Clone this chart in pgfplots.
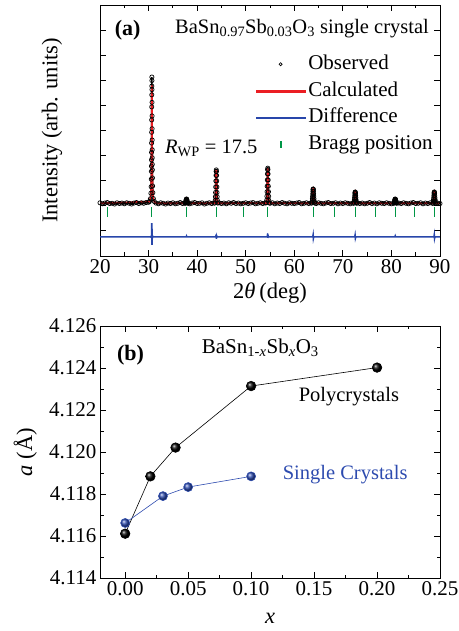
\documentclass[border=0pt]{standalone}
\usepackage{pgfplots}
\pgfplotsset{compat=1.18}
\usepackage{pgfplotstable}
\usepackage{fontspec}
\setmainfont{Liberation Serif}

\definecolor{calcred}{RGB}{235,30,35}
\definecolor{diffblue}{RGB}{40,70,170}
\definecolor{braggreen}{RGB}{0,150,70}
\definecolor{scblue}{RGB}{45,75,175}

% Observed XRD profile, BaSn0.97Sb0.03O3
\pgfplotstableread[row sep=\\]{
x y\\
20.0 2.12\\ 20.5 2.08\\ 21.0 2.11\\ 21.5 2.13\\ 22.0 2.09\\ 22.5 2.10\\ 23.0 2.07\\
23.5 2.12\\ 24.0 2.09\\ 24.5 2.11\\ 25.0 2.08\\ 25.5 2.12\\ 26.0 2.10\\ 26.5 2.07\\
27.0 2.11\\ 27.5 2.13\\ 28.0 2.09\\ 28.5 2.12\\ 29.0 2.10\\ 29.5 2.13\\ 30.0 2.14\\
30.18 2.17\\ 30.38 2.28\\ 30.48 2.50\\ 30.53 2.76\\ 30.56 3.06\\ 30.58 3.37\\ 30.59 3.58\\
30.60 3.83\\ 30.61 4.13\\ 30.62 4.50\\ 30.63 4.93\\ 30.64 5.42\\ 30.65 5.94\\ 30.66 6.42\\
30.67 6.77\\ 30.68 7.13\\ 30.69 6.99\\ 30.70 6.63\\ 30.71 6.12\\ 30.72 5.58\\ 30.73 5.07\\
30.74 4.62\\ 30.75 4.23\\ 30.76 3.91\\ 30.77 3.65\\ 30.78 3.43\\ 30.80 3.11\\ 30.83 2.79\\
30.88 2.52\\ 30.98 2.29\\ 31.18 2.17\\
31.5 2.11\\ 32.0 2.08\\ 32.5 2.12\\ 33.0 2.10\\ 33.5 2.07\\ 34.0 2.11\\ 34.5 2.09\\
35.0 2.12\\ 35.5 2.08\\ 36.0 2.10\\ 36.5 2.13\\ 37.0 2.09\\ 37.5 2.11\\
37.51 2.10\\ 37.59 2.12\\ 37.63 2.13\\ 37.66 2.16\\ 37.69 2.18\\ 37.72 2.21\\ 37.75 2.24\\
37.78 2.26\\ 37.81 2.27\\ 37.84 2.26\\ 37.87 2.24\\ 37.90 2.21\\ 37.93 2.18\\ 37.96 2.16\\
37.99 2.13\\ 38.03 2.12\\ 38.11 2.10\\
38.5 2.08\\ 39.0 2.11\\ 39.5 2.13\\ 40.0 2.09\\ 40.5 2.10\\ 41.0 2.12\\ 41.5 2.07\\
42.0 2.10\\ 42.5 2.12\\ 43.0 2.09\\ 43.5 2.11\\
43.64 2.11\\ 43.72 2.22\\ 43.76 2.36\\ 43.79 2.53\\ 43.82 2.75\\ 43.85 2.99\\ 43.88 3.21\\
43.91 3.37\\ 43.94 3.43\\ 43.97 3.37\\ 44.00 3.21\\ 44.03 2.99\\ 44.06 2.75\\ 44.09 2.53\\
44.12 2.36\\ 44.16 2.22\\ 44.24 2.11\\
44.5 2.12\\ 45.0 2.09\\ 45.5 2.11\\ 46.0 2.08\\ 46.5 2.12\\ 47.0 2.10\\ 47.5 2.13\\
48.0 2.09\\ 48.5 2.11\\ 49.0 2.08\\ 49.5 2.10\\ 50.0 2.12\\ 50.5 2.09\\ 51.0 2.11\\
51.5 2.13\\ 52.0 2.08\\ 52.5 2.10\\ 53.0 2.12\\ 53.5 2.09\\ 54.0 2.11\\
54.24 2.12\\ 54.32 2.22\\ 54.36 2.38\\ 54.39 2.56\\ 54.42 2.78\\ 54.45 3.03\\ 54.48 3.27\\
54.51 3.44\\ 54.54 3.50\\ 54.57 3.44\\ 54.60 3.27\\ 54.63 3.03\\ 54.66 2.78\\ 54.69 2.56\\
54.72 2.38\\ 54.76 2.22\\ 54.84 2.12\\
55.0 2.10\\ 55.5 2.12\\ 56.0 2.08\\ 56.5 2.11\\ 57.0 2.09\\ 57.5 2.13\\ 58.0 2.10\\
58.5 2.08\\ 59.0 2.12\\ 59.5 2.10\\ 60.0 2.09\\ 60.5 2.11\\ 61.0 2.13\\ 61.5 2.08\\
62.0 2.10\\ 62.5 2.12\\ 63.0 2.09\\ 63.5 2.11\\
63.59 2.11\\ 63.67 2.15\\ 63.71 2.21\\ 63.74 2.29\\ 63.77 2.38\\ 63.80 2.48\\ 63.83 2.58\\
63.86 2.65\\ 63.89 2.67\\ 63.92 2.65\\ 63.95 2.58\\ 63.98 2.48\\ 64.01 2.38\\ 64.04 2.29\\
64.07 2.21\\ 64.11 2.15\\ 64.19 2.11\\
64.5 2.09\\ 65.0 2.12\\ 65.5 2.10\\ 66.0 2.08\\ 66.5 2.11\\ 67.0 2.13\\ 67.5 2.09\\
68.0 2.10\\ 68.5 2.12\\ 69.0 2.08\\ 69.5 2.11\\ 70.0 2.09\\ 70.5 2.12\\ 71.0 2.10\\
71.5 2.08\\ 72.0 2.11\\
72.24 2.10\\ 72.32 2.14\\ 72.36 2.19\\ 72.39 2.25\\ 72.42 2.32\\ 72.45 2.40\\ 72.48 2.48\\
72.51 2.53\\ 72.54 2.55\\ 72.57 2.53\\ 72.60 2.48\\ 72.63 2.40\\ 72.66 2.32\\ 72.69 2.25\\
72.72 2.19\\ 72.76 2.14\\ 72.84 2.10\\
73.0 2.12\\ 73.5 2.09\\ 74.0 2.11\\ 74.5 2.08\\ 75.0 2.10\\ 75.5 2.13\\ 76.0 2.09\\
76.5 2.11\\ 77.0 2.08\\ 77.5 2.12\\ 78.0 2.10\\ 78.5 2.09\\ 79.0 2.12\\ 79.5 2.10\\
80.0 2.08\\
80.48 2.10\\ 80.56 2.12\\ 80.60 2.13\\ 80.63 2.16\\ 80.66 2.18\\ 80.69 2.21\\ 80.72 2.24\\
80.75 2.26\\ 80.78 2.27\\ 80.81 2.26\\ 80.84 2.24\\ 80.87 2.21\\ 80.90 2.18\\ 80.93 2.16\\
80.96 2.13\\ 81.00 2.12\\ 81.08 2.10\\
81.5 2.11\\ 82.0 2.09\\ 82.5 2.12\\ 83.0 2.10\\ 83.5 2.08\\ 84.0 2.11\\ 84.5 2.13\\
85.0 2.09\\ 85.5 2.10\\ 86.0 2.12\\ 86.5 2.08\\ 87.0 2.11\\ 87.5 2.09\\ 88.0 2.12\\
88.5 2.10\\
88.53 2.10\\ 88.61 2.14\\ 88.65 2.19\\ 88.68 2.25\\ 88.71 2.32\\ 88.74 2.40\\ 88.77 2.48\\
88.80 2.53\\ 88.83 2.55\\ 88.86 2.53\\ 88.89 2.48\\ 88.92 2.40\\ 88.95 2.32\\ 88.98 2.25\\
89.01 2.19\\ 89.05 2.14\\ 89.13 2.10\\
89.5 2.11\\ 90.0 2.09\\
}\obsdata

% Calculated (Rietveld) profile
\pgfplotstableread[row sep=\\]{
x y\\
20.0 2.10\\ 30.18 2.17\\ 30.38 2.28\\ 30.48 2.49\\ 30.53 2.75\\ 30.56 3.04\\ 30.58 3.35\\
30.60 3.79\\ 30.62 4.45\\ 30.64 5.35\\ 30.66 6.33\\ 30.68 6.80\\ 30.70 6.33\\ 30.72 5.35\\
30.74 4.45\\ 30.76 3.79\\ 30.78 3.35\\ 30.80 3.04\\ 30.83 2.75\\ 30.88 2.49\\ 30.98 2.28\\
31.18 2.17\\ 31.60 2.10\\
37.51 2.10\\ 37.63 2.13\\ 37.69 2.18\\ 37.75 2.24\\ 37.81 2.27\\ 37.87 2.24\\ 37.93 2.18\\
37.99 2.13\\ 38.11 2.10\\
43.64 2.10\\ 43.72 2.21\\ 43.76 2.35\\ 43.79 2.52\\ 43.82 2.74\\ 43.85 2.98\\ 43.88 3.20\\
43.91 3.36\\ 43.94 3.42\\ 43.97 3.36\\ 44.00 3.20\\ 44.03 2.98\\ 44.06 2.74\\ 44.09 2.52\\
44.12 2.35\\ 44.16 2.21\\ 44.24 2.10\\
54.24 2.11\\ 54.32 2.22\\ 54.36 2.37\\ 54.39 2.55\\ 54.42 2.78\\ 54.45 3.02\\ 54.48 3.26\\
54.51 3.43\\ 54.54 3.49\\ 54.57 3.43\\ 54.60 3.26\\ 54.63 3.02\\ 54.66 2.78\\ 54.69 2.55\\
54.72 2.37\\ 54.76 2.22\\ 54.84 2.11\\
63.59 2.10\\ 63.67 2.15\\ 63.71 2.21\\ 63.74 2.29\\ 63.77 2.38\\ 63.80 2.48\\ 63.83 2.58\\
63.86 2.64\\ 63.89 2.66\\ 63.92 2.64\\ 63.95 2.58\\ 63.98 2.48\\ 64.01 2.38\\ 64.04 2.29\\
64.07 2.21\\ 64.11 2.15\\ 64.19 2.10\\
72.24 2.10\\ 72.32 2.14\\ 72.36 2.19\\ 72.39 2.25\\ 72.42 2.32\\ 72.45 2.40\\ 72.48 2.47\\
72.51 2.52\\ 72.54 2.54\\ 72.57 2.52\\ 72.60 2.47\\ 72.63 2.40\\ 72.66 2.32\\ 72.69 2.25\\
72.72 2.19\\ 72.76 2.14\\ 72.84 2.10\\
80.48 2.10\\ 80.60 2.13\\ 80.66 2.18\\ 80.72 2.23\\ 80.78 2.26\\ 80.84 2.23\\ 80.90 2.18\\
80.96 2.13\\ 81.08 2.10\\
88.53 2.10\\ 88.61 2.14\\ 88.65 2.19\\ 88.68 2.25\\ 88.71 2.32\\ 88.74 2.40\\ 88.77 2.47\\
88.80 2.52\\ 88.83 2.54\\ 88.86 2.52\\ 88.89 2.47\\ 88.92 2.40\\ 88.95 2.32\\ 88.98 2.25\\
89.01 2.19\\ 89.05 2.14\\ 89.13 2.10\\
90.0 2.10\\
}\calcdata

% Difference curve (observed - calculated), shifted down
\pgfplotstableread[row sep=\\]{
x y\\
20.0 0.76\\ 30.40 0.76\\ 30.60 0.74\\ 30.63 0.95\\ 30.66 1.31\\ 30.68 0.60\\ 30.70 0.44\\
30.72 1.08\\ 30.75 0.70\\ 30.80 0.80\\ 30.95 0.76\\
37.75 0.76\\ 37.81 0.79\\ 37.87 0.76\\
43.85 0.76\\ 43.92 0.86\\ 43.96 0.68\\ 44.02 0.80\\ 44.10 0.76\\
54.45 0.76\\ 54.52 0.90\\ 54.56 0.72\\ 54.62 0.80\\ 54.70 0.76\\
63.80 0.76\\ 63.88 0.84\\ 63.93 0.70\\ 64.00 0.76\\
72.45 0.76\\ 72.52 0.83\\ 72.58 0.71\\ 72.65 0.76\\
80.70 0.76\\ 80.78 0.80\\ 80.85 0.76\\
88.75 0.76\\ 88.82 0.84\\ 88.88 0.70\\ 88.95 0.76\\
90.0 0.76\\
}\diffdata

% Bragg reflections of the cubic perovskite
\pgfplotstableread[row sep=\\]{
x y\\
21.56 1.75\\ 30.68 1.75\\ 37.81 1.75\\ 43.94 1.75\\ 49.46 1.75\\ 54.54 1.75\\ 63.89 1.75\\
68.27 1.75\\ 72.54 1.75\\ 76.69 1.75\\ 80.78 1.75\\ 84.82 1.75\\ 88.83 1.75\\
}\braggdata

% Lattice parameter a versus Sb content x
\pgfplotstableread[row sep=\\]{
x a\\
0.00 4.11611\\ 0.02 4.11884\\ 0.04 4.12021\\ 0.10 4.12314\\ 0.20 4.12402\\
}\polydata
\pgfplotstableread[row sep=\\]{
x a\\
0.00 4.11662\\ 0.03 4.11790\\ 0.05 4.11833\\ 0.10 4.11884\\
}\singledata

\pgfplotsset{
  panel/.style={
    scale only axis, width=340pt,
    tick align=inside,
    major tick length=6pt, minor tick length=3.5pt,
    axis line style={line width=0.8pt},
    tick style={black, line width=0.8pt},
    /pgf/number format/assume math mode=true,
    ticklabel style={font=\fontsize{21}{25}\selectfont},
    label style={font=\fontsize{22.5}{27}\selectfont},
  },
}

\begin{document}
\begin{tikzpicture}[font=\fontsize{21}{25}\selectfont]
\path[use as bounding box] (0,0) rectangle (458pt,631pt);

% (a) refinement of the powder pattern
\begin{axis}[panel,
  at={(100pt,375pt)}, anchor=south west, height=251pt,
  xmin=20, xmax=90, ymin=0, ymax=10,
  xtick={20,30,...,90}, minor x tick num=1,
  ytick={0,1,...,10}, yticklabels={},
  xlabel={2\textit{θ}\,(deg)},
  ylabel={Intensity (arb. units)},
  xlabel style={at={(axis description cs:0.5,-0.147)}, anchor=center},
  ylabel style={at={(axis description cs:-0.141,0.5)}, anchor=center},
  legend cell align=left,
  legend style={draw=none, fill=none, at={(0.458,0.81)}, anchor=north west,
    row sep=4pt, inner sep=0pt, font=\fontsize{21}{25}\selectfont,
    nodes={inner xsep=3pt, inner ysep=1pt, text height=15.5pt, text depth=5.2pt}},
]
\addplot[black, line width=1.6pt, forget plot] table[x=x, y=y] {\obsdata};
\addplot[only marks, black, mark=o, mark size=2.1pt,
  mark options={line width=0.7pt}, forget plot] table[x=x, y=y] {\obsdata};
\addplot[calcred, line width=1.6pt, forget plot] table[x=x, y=y] {\calcdata};
\addplot[diffblue, line width=1.6pt, forget plot] table[x=x, y=y] {\diffdata};
\addplot[only marks, braggreen, mark=|, mark size=5pt,
  mark options={line width=0.9pt}, forget plot] table[x=x, y=y] {\braggdata};

% legend keys drawn as filled shapes
\addlegendimage{legend image code/.code={%
  \draw[black, line width=0.7pt] (24.5pt,0pt) circle (1.6pt);}}
\addlegendentry{Observed}
\addlegendimage{legend image code/.code={%
  \fill[calcred] (0pt,-0.8pt) rectangle (49pt,0.8pt);}}
\addlegendentry{Calculated}
\addlegendimage{legend image code/.code={%
  \fill[diffblue] (0pt,-0.8pt) rectangle (49pt,0.8pt);}}
\addlegendentry{Difference}
\addlegendimage{legend image code/.code={%
  \fill[braggreen] (23.9pt,-3.3pt) rectangle (25.1pt,3.3pt);}}
\addlegendentry{Bragg position}

\node[anchor=base west, inner sep=0pt, font=\bfseries\fontsize{22}{26}\selectfont]
  at (axis cs:23.0,8.78) {(a)};
\node[anchor=base west, inner sep=0pt, font=\fontsize{20.5}{24}\selectfont]
  at (axis cs:35.44,8.87) {BaSn\textsubscript{0.97}Sb\textsubscript{0.03}O\textsubscript{3} single crystal};
\node[anchor=base west, inner sep=0pt, font=\fontsize{20.5}{24}\selectfont]
  at (axis cs:33.38,4.09) {\textit{R}\textsubscript{WP} = 17.5};
\end{axis}

% (b) lattice parameter
\begin{axis}[panel,
  at={(100pt,53pt)}, anchor=south west, height=252pt,
  xmin=-0.02, xmax=0.25, ymin=4.114, ymax=4.126,
  xtick={0,0.05,0.10,0.15,0.20,0.25}, minor x tick num=1,
  ytick={4.114,4.116,4.118,4.120,4.122,4.124,4.126}, minor y tick num=1,
  scaled ticks=false,
  xticklabel style={/pgf/number format/.cd, fixed, fixed zerofill, precision=2},
  yticklabel style={/pgf/number format/.cd, fixed, fixed zerofill, precision=3},
  xlabel={\textit{x}},
  ylabel={\textit{a} (Å)},
  xlabel style={at={(axis description cs:0.5,-0.159)}, anchor=center},
  ylabel style={at={(axis description cs:-0.22,0.5)}, anchor=center},
]
\addplot[black, line width=0.6pt, mark=ball, mark size=4.8pt,
  mark options={ball color=black}] table[x=x, y=a] {\polydata};
\addplot[scblue, line width=0.6pt, mark=ball, mark size=4.5pt,
  mark options={ball color=scblue}] table[x=x, y=a] {\singledata};

\node[anchor=center, inner sep=0pt, font=\bfseries\fontsize{22}{26}\selectfont]
  at (axis cs:0.0042,4.12463) {(b)};
\node[anchor=base west, inner sep=0pt]
  at (axis cs:0.0607,4.12469) {BaSn\textsubscript{1-\textit{x}}Sb\textsubscript{\textit{x}}O\textsubscript{3}};
\node[anchor=base west, inner sep=0pt, font=\fontsize{20.5}{24}\selectfont]
  at (axis cs:0.1377,4.12241) {Polycrystals};
\node[anchor=base west, inner sep=0pt, text=scblue, font=\fontsize{20.5}{24}\selectfont]
  at (axis cs:0.1250,4.11870) {Single Crystals};
\end{axis}
\end{tikzpicture}
\end{document}
